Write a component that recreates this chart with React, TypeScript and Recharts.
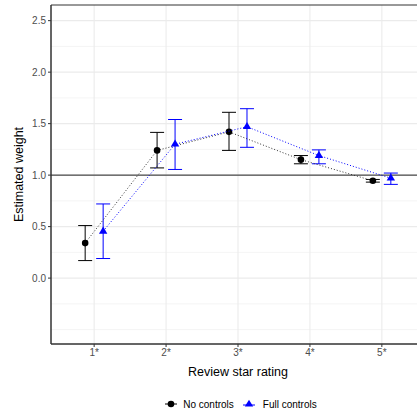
import React from 'react';
import {
  ComposedChart,
  Scatter,
  XAxis,
  YAxis,
  CartesianGrid,
  ErrorBar,
  ReferenceLine,
  ReferenceArea,
  Legend
} from 'recharts';

const stars = [1, 2, 3, 4, 5];
const starLabels = ['1*', '2*', '3*', '4*', '5*'];

const noControlsEst = [0.34, 1.24, 1.42, 1.15, 0.945];
const noControlsLow = [0.17, 1.07, 1.24, 1.11, 0.932];
const noControlsHigh = [0.51, 1.415, 1.61, 1.19, 0.958];

const fullControlsEst = [0.455, 1.3, 1.47, 1.19, 0.97];
const fullControlsLow = [0.19, 1.055, 1.27, 1.11, 0.91];
const fullControlsHigh = [0.72, 1.54, 1.645, 1.245, 1.02];

const yTicks = [0, 0.5, 1, 1.5, 2, 2.5];
const yMinor = [-0.5, -0.25, 0.25, 0.75, 1.25, 1.75, 2.25];

const DODGE = 0.125;

const buildSeries = (est: number[], low: number[], high: number[], shift: number) =>
  stars.map((s, i) => ({
    x: s + shift,
    y: est[i],
    err: [est[i] - low[i], high[i] - est[i]]
  }));

const noControlsData = buildSeries(noControlsEst, noControlsLow, noControlsHigh, -DODGE);
const fullControlsData = buildSeries(fullControlsEst, fullControlsLow, fullControlsHigh, DODGE);

const FONT = '"Liberation Sans", Arial, sans-serif';

const Dot = (props: any) => <circle cx={props.cx} cy={props.cy} r={3.3} fill="#000" />;

const Tri = (props: any) => {
  const { cx, cy } = props;
  const h = 7.2;
  const w = 8.4;
  return (
    <polygon
      points={`${cx - w / 2},${cy + h / 3} ${cx + w / 2},${cy + h / 3} ${cx},${cy - (2 * h) / 3}`}
      fill="#0000ff"
    />
  );
};

const LegendBox = () => (
  <div
    style={{
      display: 'flex',
      justifyContent: 'center',
      alignItems: 'center',
      height: 28,
      paddingTop: 12,
      boxSizing: 'border-box',
      fontFamily: FONT,
      fontSize: 10,
      color: '#000',
      paddingLeft: 56
    }}
  >
    <svg width={14} height={10} style={{ marginRight: 5 }}>
      <line x1={1} y1={5} x2={13} y2={5} stroke="#000" strokeWidth={1} />
      <circle cx={7} cy={5} r={3.3} fill="#000" />
    </svg>
    <span style={{ marginRight: 8 }}>No controls</span>
    <svg width={14} height={10} style={{ marginRight: 7 }}>
      <line x1={1} y1={6} x2={13} y2={6} stroke="#0000ff" strokeWidth={1} />
      <polygon points="2.8,7.4 11.2,7.4 7,0.8" fill="#0000ff" />
    </svg>
    <span>Full controls</span>
  </div>
);

export default function App() {
  return (
    <div
      style={{
        position: 'absolute',
        left: 0,
        top: 0,
        width: 417,
        height: 412,
        overflow: 'hidden',
        background: '#fff'
      }}
    >
      <ComposedChart
        width={432}
        height={412}
        margin={{ top: 5, right: 7, left: 0, bottom: 0 }}
        style={{ fontFamily: FONT }}
      >
        <CartesianGrid
          horizontalValues={yMinor}
          vertical={false}
          stroke="#ebebeb"
          strokeWidth={0.55}
        />
        <CartesianGrid
          horizontalValues={yTicks}
          verticalValues={stars}
          stroke="#ebebeb"
          strokeWidth={1.07}
        />
        <XAxis
          type="number"
          dataKey="x"
          domain={[0.4, 5.6]}
          ticks={stars}
          tickFormatter={(v: number) => starLabels[stars.indexOf(v)]}
          allowDataOverflow
          height={40}
          tickSize={3}
          tickMargin={2}
          axisLine={{ stroke: '#333' }}
          tickLine={{ stroke: '#333' }}
          tick={{ fill: '#4d4d4d', fontSize: 10 }}
          label={{
            value: 'Review star rating',
            position: 'insideBottom',
            offset: 8,
            fill: '#000',
            fontSize: 12.5
          }}
        />
        <YAxis
          type="number"
          dataKey="y"
          domain={[-0.64, 2.652]}
          ticks={yTicks}
          tickFormatter={(v: number) => v.toFixed(1)}
          allowDataOverflow
          width={51}
          tickSize={3}
          tickMargin={2}
          axisLine={{ stroke: '#333' }}
          tickLine={{ stroke: '#333' }}
          tick={{ fill: '#4d4d4d', fontSize: 10 }}
          label={{
            value: 'Estimated weight',
            angle: -90,
            position: 'insideLeft',
            offset: 19,
            fill: '#000',
            fontSize: 12.5,
            style: { textAnchor: 'middle' }
          }}
        />
        <ReferenceArea
          x1={0.4}
          x2={5.6}
          y1={-0.64}
          y2={2.652}
          fill="none"
          fillOpacity={0}
          stroke="#333"
          strokeWidth={1}
        />
        <ReferenceLine y={1} stroke="#222" strokeWidth={1} />
        <Scatter
          name="No controls"
          data={noControlsData}
          fill="#000"
          shape={Dot}
          line={{ stroke: '#333', strokeWidth: 1, strokeDasharray: '1 2' }}
          isAnimationActive={false}
        >
          <ErrorBar dataKey="err" direction="y" width={7} stroke="#000" strokeWidth={1} isAnimationActive={false} />
        </Scatter>
        <Scatter
          name="Full controls"
          data={fullControlsData}
          fill="#0000ff"
          shape={Tri}
          line={{ stroke: '#0000ff', strokeWidth: 1, strokeDasharray: '1 2' }}
          isAnimationActive={false}
        >
          <ErrorBar dataKey="err" direction="y" width={7} stroke="#0000ff" strokeWidth={1} isAnimationActive={false} />
        </Scatter>
        <Legend verticalAlign="bottom" height={28} content={() => <LegendBox />} />
      </ComposedChart>
    </div>
  );
}
